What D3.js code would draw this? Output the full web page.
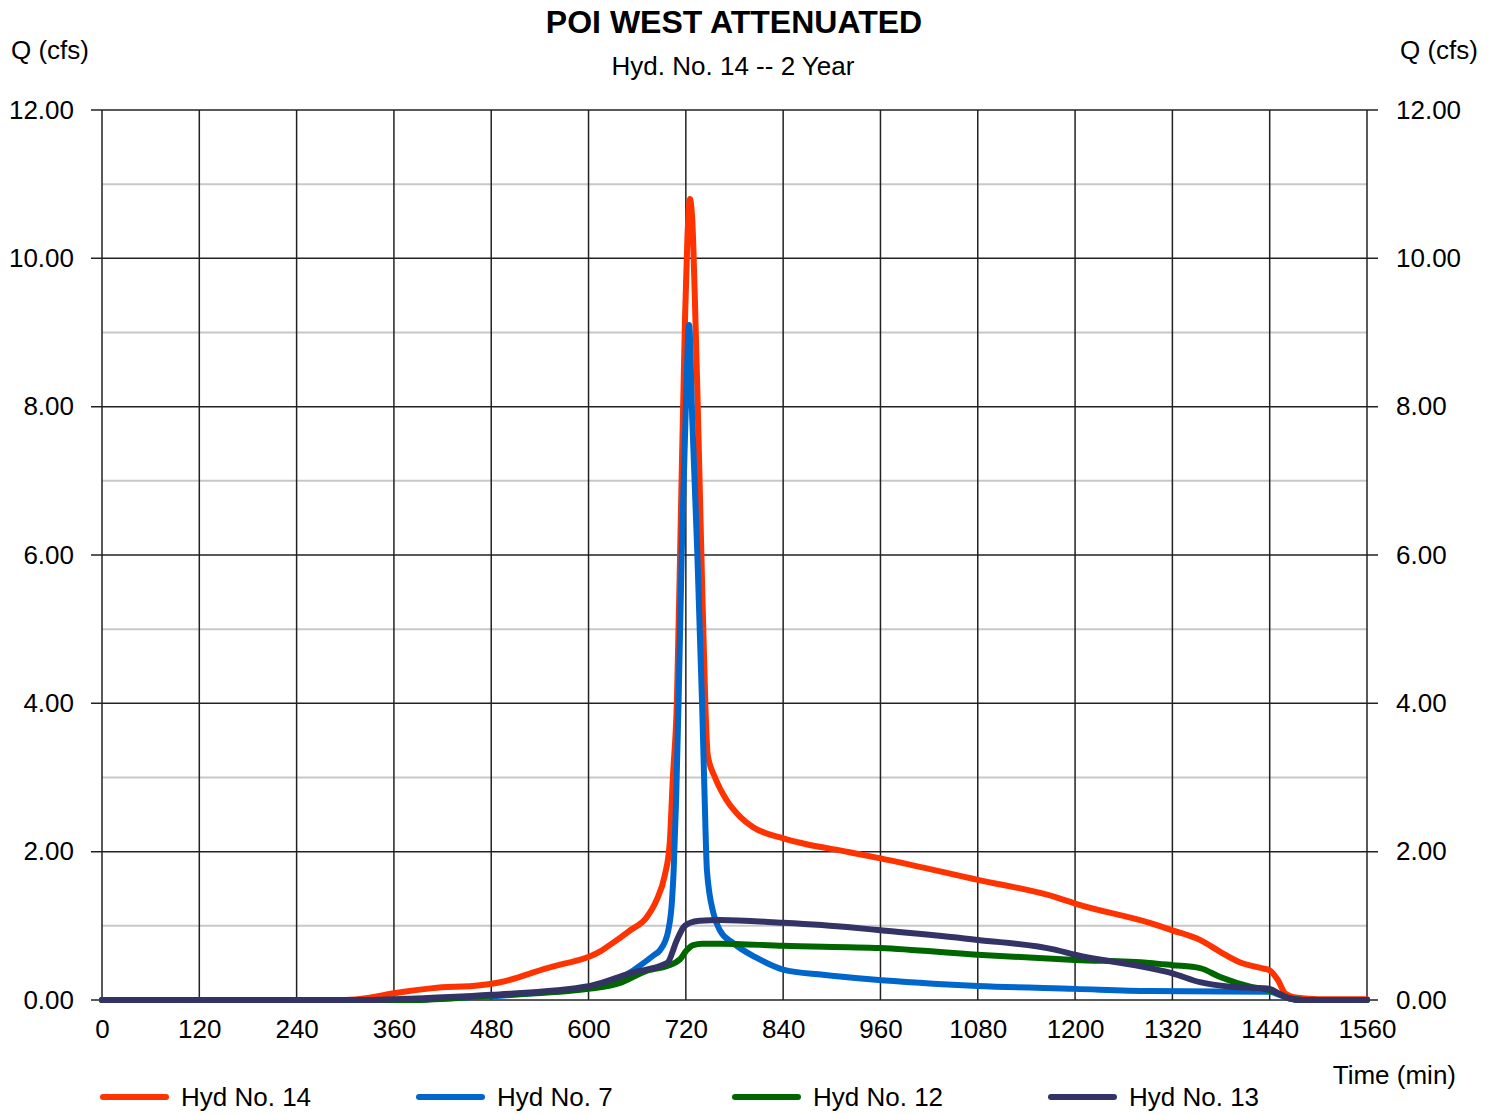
<!DOCTYPE html>
<html><head><meta charset="utf-8">
<script src="https://cdn.jsdelivr.net/npm/d3@7"></script>
<style>body{margin:0;background:#fff}svg text{font-family:"Liberation Sans",Arial,sans-serif;fill:#000}</style>
</head><body><svg id="c" width="1496" height="1114"></svg>
<script>
const xTicks = [0,120,240,360,480,600,720,840,960,1080,1200,1320,1440,1560];
const yMajor = [0,2,4,6,8,10,12];
const yMinor = [1,3,5,7,9,11];

const hyd14T = [0,300,330,360,408,466,491,549,570,589,602,615,630,650,672,684,694,700,704,709,713,719,722,725,728,731,734,739,744,747,756,770,787,803,840,865,918,960,1080,1175,1200,1292,1320,1354,1379,1403,1430,1440,1450,1459,1474,1500,1560];
const hyd14V = [0,0,0.03,0.09,0.16,0.2,0.24,0.43,0.49,0.54,0.59,0.66,0.77,0.93,1.12,1.35,1.68,2.1,3.0,4.04,6.07,9.2,10.3,10.8,10.5,9.5,8.3,6.07,4.0,3.3,3.0,2.7,2.47,2.33,2.18,2.11,2.0,1.91,1.62,1.39,1.30,1.04,0.94,0.81,0.65,0.51,0.43,0.40,0.27,0.09,0.03,0.01,0.01];

const hyd7T = [0,360,420,480,540,600,640,651,663,680,688,694,698,703,705,708,711,715,720,724,728,734,740,743,746,754,762,778,807,840,889,947,1080,1200,1292,1440,1452,1465,1480,1560];
const hyd7V = [0,0,0.02,0.05,0.1,0.17,0.3,0.37,0.46,0.6,0.67,0.78,0.92,1.35,1.75,2.7,4.0,6.07,8.0,9.1,7.8,6.07,4.0,2.8,1.75,1.17,0.94,0.77,0.57,0.41,0.34,0.28,0.19,0.15,0.12,0.11,0.07,0.02,0,0];

const hyd12T = [0,380,480,600,639,673,697,713,721,729,740,762,840,960,1080,1200,1292,1320,1354,1379,1416,1440,1452,1465,1480,1560];
const hyd12V = [0,0,0.06,0.15,0.23,0.40,0.46,0.55,0.67,0.74,0.76,0.76,0.73,0.70,0.61,0.54,0.50,0.47,0.43,0.31,0.18,0.13,0.08,0.02,0,0];

const hyd13T = [0,330,360,480,602,651,697,709,717,725,737,762,840,922,960,1080,1175,1200,1292,1320,1354,1391,1430,1440,1452,1465,1480,1560];
const hyd13V = [0,0,0.01,0.07,0.19,0.36,0.50,0.81,0.98,1.04,1.07,1.08,1.04,0.98,0.94,0.81,0.68,0.61,0.43,0.36,0.24,0.18,0.16,0.15,0.08,0.02,0,0];

const seriesNames = ["Hyd No. 14","Hyd No. 7","Hyd No. 12","Hyd No. 13"];
const seriesColors = ["#ff3300","#0066cc","#006600","#333366"];

const series = [
  {name:seriesNames[0], color:seriesColors[0], t:hyd14T, v:hyd14V},
  {name:seriesNames[1], color:seriesColors[1], t:hyd7T, v:hyd7V},
  {name:seriesNames[2], color:seriesColors[2], t:hyd12T, v:hyd12V},
  {name:seriesNames[3], color:seriesColors[3], t:hyd13T, v:hyd13V}
];

const svg = d3.select("#c");
const L=102, R=1367, T=110, B=1000;
const x = d3.scaleLinear().domain([0,1560]).range([L,R]);
const y = d3.scaleLinear().domain([0,12]).range([B,T]);
const FONT = "Liberation Sans, Arial, sans-serif";

svg.append("g").selectAll("line").data(yMinor).join("line")
  .attr("x1",L).attr("x2",R).attr("y1",d=>y(d)).attr("y2",d=>y(d))
  .attr("stroke","#c8c8c8").attr("stroke-width",2);
svg.append("g").selectAll("line").data(xTicks).join("line")
  .attr("x1",d=>x(d)).attr("x2",d=>x(d)).attr("y1",T).attr("y2",B)
  .attr("stroke","#222").attr("stroke-width",1.5);
svg.append("g").selectAll("line").data(yMajor).join("line")
  .attr("x1",L-11).attr("x2",R+11).attr("y1",d=>y(d)).attr("y2",d=>y(d))
  .attr("stroke","#222").attr("stroke-width",1.5);

const yl = svg.append("g").attr("transform",`translate(${L},0)`)
  .call(d3.axisLeft(y).tickValues(yMajor).tickFormat(d3.format(".2f")).tickSize(0).tickPadding(28));
yl.select(".domain").remove();
yl.selectAll("text").attr("font-size",26).attr("font-family",FONT);
const yr = svg.append("g").attr("transform",`translate(${R},0)`)
  .call(d3.axisRight(y).tickValues(yMajor).tickFormat(d3.format(".2f")).tickSize(0).tickPadding(29));
yr.select(".domain").remove();
yr.selectAll("text").attr("font-size",26).attr("font-family",FONT);
const xa = svg.append("g").attr("transform",`translate(0,${B})`)
  .call(d3.axisBottom(x).tickValues(xTicks).tickFormat(d3.format("d")).tickSize(0).tickPadding(20));
xa.select(".domain").remove();
xa.selectAll("text").attr("font-size",26).attr("font-family",FONT);

const line = d3.line().x(d=>x(d[0])).y(d=>y(d[1])).curve(d3.curveMonotoneX);
series.forEach(s=>{
  svg.append("path").datum(s.t.map((t,i)=>[t,s.v[i]]))
    .attr("d",line).attr("fill","none").attr("stroke",s.color)
    .attr("stroke-width",6).attr("stroke-linejoin","round").attr("stroke-linecap","round");
});

svg.append("text").attr("x",734).attr("y",33).attr("text-anchor","middle")
  .attr("font-size",32).attr("font-weight","bold").text("POI WEST ATTENUATED");
svg.append("text").attr("x",733).attr("y",75).attr("text-anchor","middle")
  .attr("font-size",26).text("Hyd. No. 14 -- 2 Year");
svg.append("text").attr("x",11).attr("y",59).attr("font-size",26).text("Q (cfs)");
svg.append("text").attr("x",1478).attr("y",59).attr("text-anchor","end").attr("font-size",26).text("Q (cfs)");
svg.append("text").attr("x",1456).attr("y",1084).attr("text-anchor","end").attr("font-size",26).text("Time (min)");

const lg = svg.append("g").selectAll("g").data(series).join("g")
  .attr("transform",(d,i)=>`translate(${102+i*316},1097)`);
lg.append("line").attr("x1",1).attr("x2",64).attr("y1",0).attr("y2",0)
  .attr("stroke",d=>d.color).attr("stroke-width",6).attr("stroke-linecap","round");
lg.append("text").attr("x",79).attr("y",9).attr("font-size",26).text(d=>d.name);
</script></body></html>
